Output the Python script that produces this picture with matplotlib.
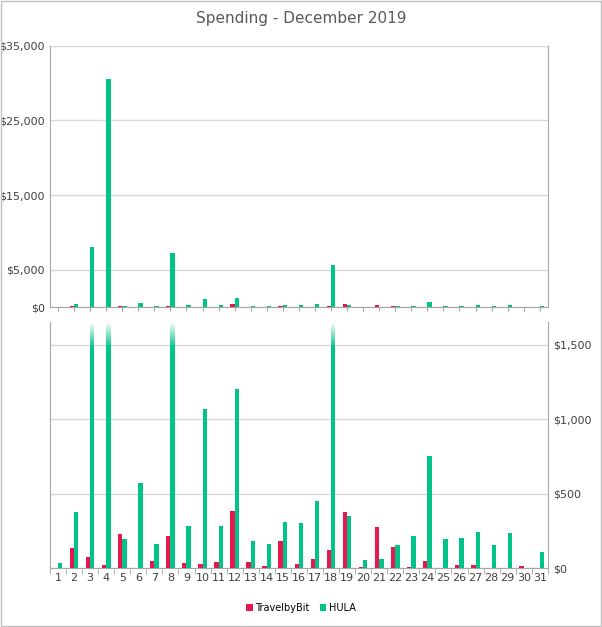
import matplotlib
matplotlib.use("Agg")
import matplotlib.pyplot as plt
import numpy as np

days = list(range(1, 32))
travelbybit = [0,132,72,18,231,0,45,213,31,27,38,386,38,16,184,27,61,123,379,9,278,139,9,45,0,22,18,0,0,16,0]
hula = [36,374,8050,30570,195,570,161,7240,285,1065,285,1204,179,161,307,300,453,5630,352,56,61,155,217,749,195,200,240,155,235,0,105]
series_names = ["TravelbyBit", "HULA"]
red, green = "#E8174E", "#00C389"
gray = "#A6A6A6"

plt.rcParams['font.family'] = ['Segoe UI', 'DejaVu Sans']
fig = plt.figure(figsize=(6.02, 6.27), dpi=100)
fig.patches.append(plt.Rectangle((0.002, 0.002), 0.996, 0.996, transform=fig.transFigure,
                                 fill=False, edgecolor="#BFBFBF", lw=1))
fig.text(0.5, 0.97, "Spending - December 2019", ha="center", va="center", fontsize=11, color="#595959")

x = np.array(days)
w = 0.27
top = fig.add_axes([0.083, 0.510, 0.827, 0.417])
bot = fig.add_axes([0.083, 0.094, 0.827, 0.392])

for ax in (top, bot):
    ax.bar(x - w/2, travelbybit, w, color=red, label=series_names[0], zorder=3)
    ax.bar(x + w/2, hula, w, color=green, label=series_names[1], zorder=3)
    ax.set_xlim(0.5, 31.5)
    for s in ax.spines.values():
        s.set_visible(False)
    ax.spines['left'].set_visible(True); ax.spines['left'].set_color(gray)
    ax.spines['right'].set_visible(True); ax.spines['right'].set_color(gray)
    ax.spines['bottom'].set_visible(True); ax.spines['bottom'].set_color(gray)
    ax.tick_params(colors="#404040", labelsize=8, length=3)
    ax.grid(axis='y', color="#D9D9D9", lw=1, zorder=0)

top.set_ylim(0, 35000)
top.set_yticks([0, 5000, 15000, 25000, 35000])
top.set_yticklabels(["$0", "$5,000", "$15,000", "$25,000", "$35,000"])
top.tick_params(axis='y', length=0)
top.set_xticks(x); top.set_xticklabels([])
top.tick_params(axis='x', length=3, colors=gray)

ymax = 1650
bot.set_ylim(0, ymax)
bot.set_yticks([0, 500, 1000, 1500])
bot.yaxis.tick_right()
bot.set_yticklabels(["$0", "$500", "$1,000", "$1,500"])
bot.tick_params(axis='y', length=0)
bot.set_xticks(x + 0.5, minor=False)
bot.set_xticks(x)
bot.set_xticklabels([str(d) for d in days])
bot.tick_params(axis='x', length=0, labelcolor="#404040")
bot.set_xticks(np.arange(0.5, 32, 1), minor=True)
bot.tick_params(axis='x', which='minor', length=4, color=gray)

# fade clipped bars
grad = np.linspace(0, 1, 50).reshape(-1, 1)
cmap = matplotlib.colors.LinearSegmentedColormap.from_list("f", [(1,1,1,0), (1,1,1,1)])
for p in bot.patches:
    if p.get_height() > ymax:
        bot.imshow(grad, extent=[p.get_x()-0.02, p.get_x()+p.get_width()+0.02, ymax-170, ymax],
                   cmap=cmap, aspect='auto', origin='lower', zorder=4)
bot.set_xlim(0.5, 31.5); bot.set_ylim(0, ymax)

h, l = bot.get_legend_handles_labels()
fig.legend(h, l, loc="center", bbox_to_anchor=(0.5, 0.03), ncol=2, frameon=False,
           fontsize=7, handlelength=0.7, handleheight=0.7, columnspacing=1, handletextpad=0.3)
fig.savefig("out.png")
